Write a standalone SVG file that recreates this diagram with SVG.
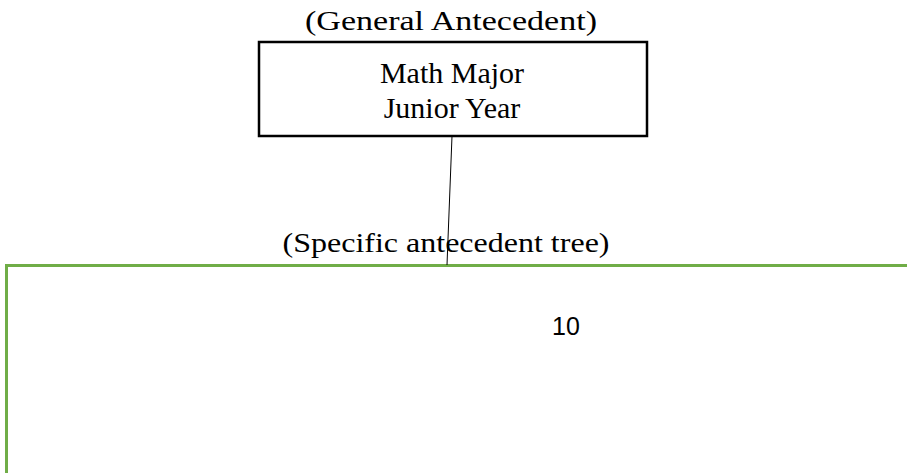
<svg xmlns="http://www.w3.org/2000/svg" width="907" height="473" viewBox="0 0 907 473">
  <style>
    .serif { font-family: "Liberation Serif", "Times New Roman", serif; fill: #000; }
    .sans { font-family: "Liberation Sans", Arial, sans-serif; fill: #000; }
    .node { fill: #fff; stroke: #000; stroke-width: 2.5; }
    .tree { fill: none; stroke: #70AD47; stroke-width: 3; }
    .link { stroke: #000; stroke-width: 1; fill: none; }
  </style>
  <rect width="907" height="473" fill="#fff"/>

  <g id="general-antecedent">
    <text class="serif" x="451" y="30" font-size="28" text-anchor="middle" textLength="292" lengthAdjust="spacingAndGlyphs">(General Antecedent)</text>
    <rect class="node" x="259" y="42" width="388" height="94"/>
    <text class="serif" x="452" y="83" font-size="30" text-anchor="middle">Math Major</text>
    <text class="serif" x="452" y="118" font-size="30" text-anchor="middle">Junior Year</text>
  </g>

  <g id="specific-antecedent-tree">
    <text class="serif" x="446" y="252" font-size="27" text-anchor="middle" textLength="327" lengthAdjust="spacingAndGlyphs">(Specific antecedent tree)</text>
    <path class="tree" d="M6.5 480 V265.5 H915"/>
    <text class="sans" x="566" y="335" font-size="25" text-anchor="middle">10</text>
  </g>

  <g id="connectors">
    <line class="link" x1="452" y1="136" x2="447" y2="265"/>
  </g>
</svg>
